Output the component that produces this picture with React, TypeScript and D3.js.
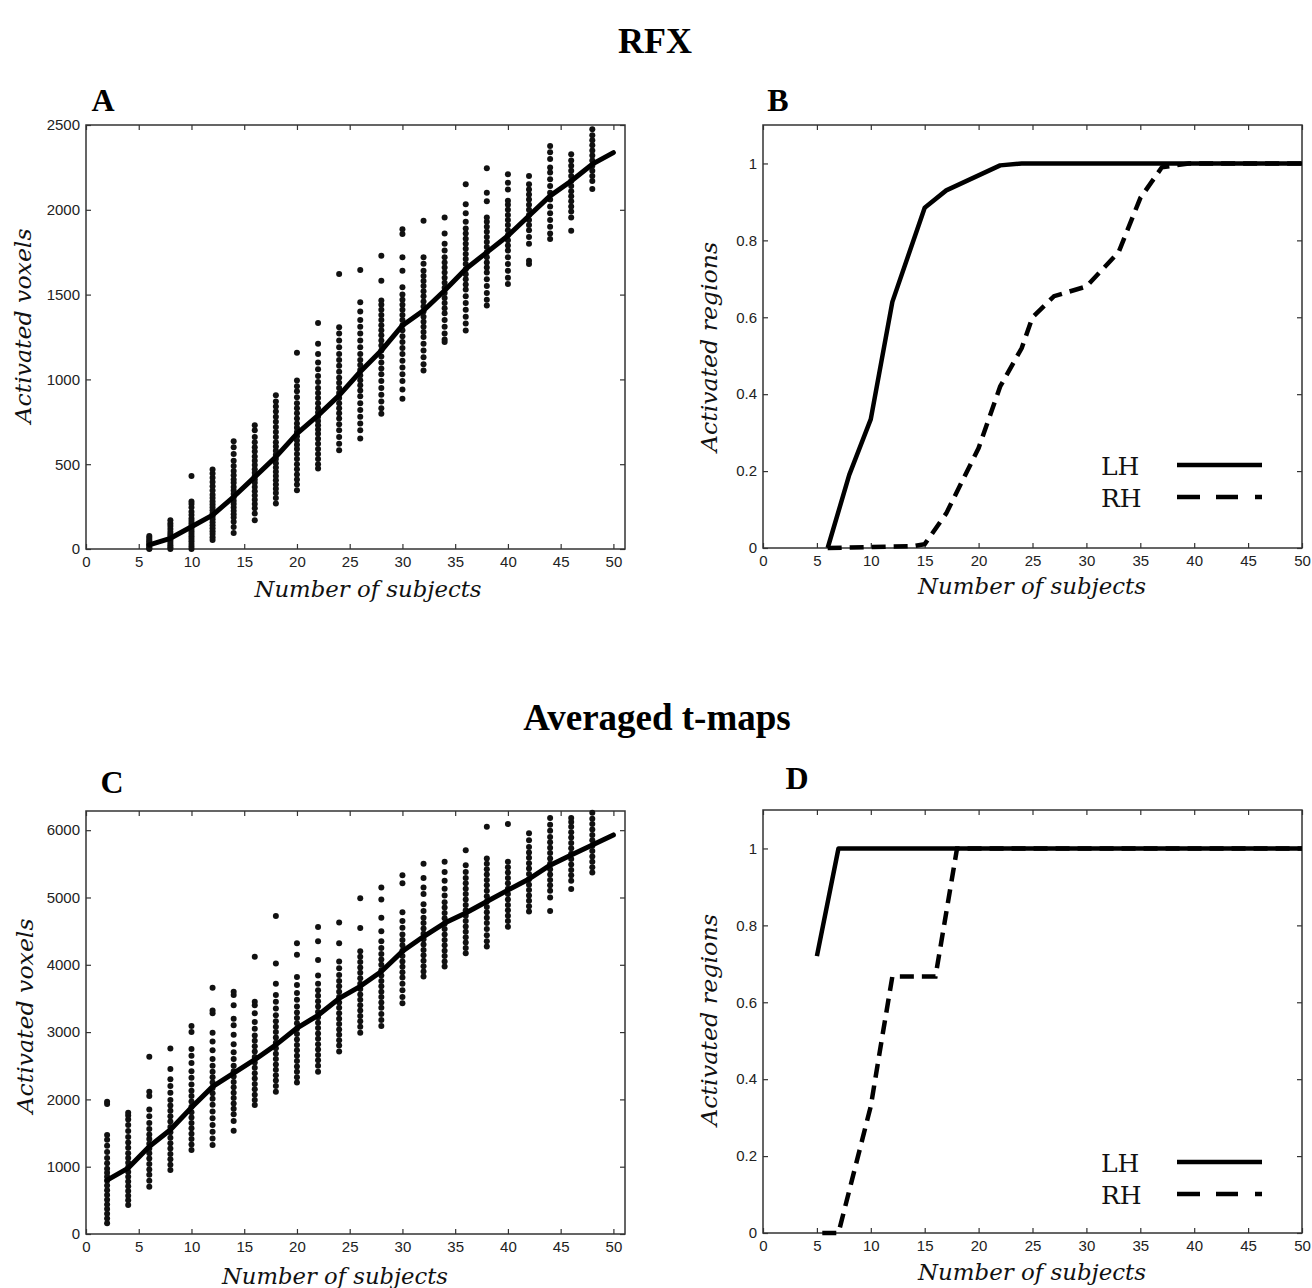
import React, { useEffect, useRef } from "react";
import * as d3 from "d3";

// ---- panel A : RFX, activated voxels per random subsample ----
const subjA = [6, 8, 10, 12, 14, 16, 18, 20, 22, 24, 26, 28, 30, 32, 34, 36, 38, 40, 42, 44, 46, 48];
const voxA = [
  [0, 5, 12, 20, 28, 36, 45, 55, 66, 76],
  [0, 10, 22, 35, 48, 60, 72, 85, 100, 118, 135, 150, 170],
  [0, 15, 30, 45, 60, 75, 90, 105, 120, 135, 150, 165, 180, 200, 220, 245, 265, 280, 430],
  [53, 70, 88, 105, 122, 140, 158, 175, 192, 210, 228, 245, 262, 280, 300, 320, 345, 370, 395, 420, 445, 469],
  [94, 130, 160, 185, 205, 225, 245, 265, 285, 305, 325, 345, 365, 390, 410, 435, 460, 490, 520, 560, 600, 635],
  [170, 210, 240, 265, 290, 315, 340, 365, 390, 410, 430, 450, 470, 495, 520, 545, 575, 600, 630, 660, 700, 729],
  [268, 300, 330, 355, 380, 405, 430, 455, 480, 505, 530, 555, 580, 605, 630, 660, 690, 720, 750, 780, 810, 840, 870, 906],
  [347, 380, 410, 440, 470, 500, 530, 560, 590, 615, 640, 665, 690, 715, 740, 770, 800, 830, 860, 895, 930, 960, 994, 1157],
  [475, 500, 530, 560, 590, 620, 650, 680, 705, 730, 755, 780, 805, 830, 860, 890, 920, 950, 985, 1020, 1060, 1100, 1150, 1210, 1333],
  [582, 620, 660, 700, 735, 770, 800, 830, 860, 890, 920, 950, 980, 1010, 1045, 1080, 1115, 1150, 1190, 1230, 1270, 1308, 1621],
  [651, 700, 740, 780, 820, 860, 900, 935, 965, 995, 1025, 1055, 1085, 1115, 1150, 1190, 1230, 1270, 1310, 1350, 1400, 1455, 1645],
  [798, 830, 870, 910, 950, 990, 1030, 1065, 1100, 1135, 1170, 1200, 1230, 1260, 1290, 1320, 1350, 1380, 1410, 1440, 1465, 1582, 1729],
  [886, 940, 990, 1030, 1070, 1110, 1150, 1185, 1220, 1255, 1290, 1320, 1350, 1380, 1410, 1440, 1470, 1500, 1543, 1640, 1720, 1857, 1886],
  [1053, 1090, 1130, 1170, 1210, 1250, 1280, 1310, 1340, 1370, 1400, 1430, 1460, 1490, 1520, 1550, 1580, 1610, 1640, 1682, 1720, 1935],
  [1220, 1235, 1270, 1310, 1350, 1390, 1420, 1450, 1480, 1510, 1540, 1570, 1600, 1630, 1660, 1690, 1720, 1760, 1800, 1860, 1955],
  [1288, 1330, 1370, 1410, 1450, 1490, 1530, 1560, 1590, 1620, 1650, 1680, 1710, 1740, 1770, 1800, 1830, 1860, 1890, 1930, 1980, 2033, 2151],
  [1435, 1470, 1510, 1550, 1590, 1630, 1660, 1690, 1720, 1750, 1780, 1810, 1840, 1870, 1900, 1930, 1955, 2050, 2100, 2245],
  [1563, 1600, 1640, 1680, 1720, 1760, 1790, 1820, 1850, 1880, 1910, 1940, 1970, 2000, 2030, 2053, 2120, 2160, 2210],
  [1680, 1700, 1800, 1840, 1880, 1910, 1940, 1970, 2000, 2030, 2060, 2090, 2120, 2150, 2200],
  [1828, 1860, 1900, 1940, 1980, 2020, 2060, 2100, 2140, 2180, 2220, 2250, 2300, 2340, 2376],
  [1876, 1955, 1990, 2020, 2050, 2080, 2110, 2140, 2170, 2200, 2230, 2260, 2290, 2327],
  [2122, 2170, 2200, 2230, 2260, 2290, 2320, 2350, 2380, 2410, 2440, 2475],
];
const meanXA = [6, 8, 10, 12, 14, 16, 18, 20, 22, 24, 26, 28, 30, 32, 34, 36, 38, 40, 42, 44, 46, 48, 50];
const meanYA = [24, 63, 131, 200, 308, 425, 543, 680, 788, 906, 1045, 1170, 1318, 1406, 1524, 1651, 1749, 1847, 1965, 2082, 2170, 2269, 2337];

// ---- panel C : averaged t-maps ----
const subjC = [2, 4, 6, 8, 10, 12, 14, 16, 18, 20, 22, 24, 26, 28, 30, 32, 34, 36, 38, 40, 42, 44, 46, 48];
const voxC = [
  [160, 230, 300, 370, 440, 510, 580, 650, 720, 790, 850, 910, 970, 1050, 1130, 1220, 1310, 1400, 1471, 1930, 1966],
  [430, 500, 570, 640, 710, 780, 850, 920, 990, 1060, 1130, 1200, 1280, 1360, 1440, 1530, 1620, 1700, 1760, 1800],
  [703, 790, 880, 960, 1040, 1120, 1200, 1270, 1340, 1410, 1480, 1560, 1650, 1750, 1850, 2050, 2115, 2635],
  [951, 1030, 1110, 1190, 1270, 1350, 1430, 1510, 1590, 1670, 1750, 1830, 1910, 1990, 2100, 2200, 2300, 2450, 2758],
  [1248, 1330, 1410, 1490, 1570, 1650, 1730, 1810, 1890, 1970, 2050, 2130, 2220, 2320, 2420, 2540, 2650, 2750, 3000, 3090],
  [1322, 1420, 1520, 1620, 1720, 1820, 1920, 2010, 2090, 2170, 2250, 2330, 2410, 2500, 2600, 2730, 2860, 2990, 3280, 3320, 3660],
  [1535, 1680, 1780, 1860, 1940, 2020, 2100, 2180, 2260, 2340, 2420, 2500, 2600, 2700, 2820, 2960, 3100, 3200, 3400, 3550, 3600],
  [1917, 1990, 2070, 2150, 2230, 2310, 2390, 2470, 2550, 2630, 2710, 2790, 2870, 2950, 3050, 3150, 3280, 3400, 3450, 4120],
  [2115, 2200, 2280, 2360, 2440, 2520, 2600, 2680, 2760, 2840, 2920, 3000, 3080, 3160, 3250, 3350, 3450, 3550, 3720, 4020, 4725],
  [2250, 2330, 2410, 2490, 2570, 2650, 2730, 2810, 2890, 2970, 3050, 3130, 3210, 3290, 3380, 3480, 3580, 3700, 3820, 4150, 4320],
  [2410, 2500, 2580, 2660, 2740, 2820, 2900, 2980, 3060, 3140, 3220, 3300, 3380, 3460, 3540, 3620, 3720, 3840, 4070, 4350, 4560],
  [2710, 2800, 2880, 2960, 3040, 3120, 3200, 3280, 3360, 3440, 3520, 3600, 3680, 3760, 3850, 3950, 4050, 4320, 4630],
  [2990, 3080, 3160, 3240, 3320, 3400, 3480, 3560, 3640, 3720, 3800, 3880, 3960, 4040, 4120, 4200, 4545, 4990],
  [3090, 3180, 3270, 3360, 3440, 3520, 3600, 3680, 3760, 3840, 3920, 4000, 4080, 4160, 4250, 4350, 4500, 4700, 4970, 5150],
  [3430, 3520, 3620, 3720, 3810, 3890, 3970, 4050, 4130, 4210, 4290, 4370, 4450, 4550, 4650, 4780, 5210, 5330],
  [3825, 3900, 3980, 4060, 4140, 4220, 4300, 4380, 4460, 4540, 4620, 4700, 4800, 4900, 5050, 5150, 5290, 5500],
  [3975, 4050, 4130, 4210, 4290, 4370, 4450, 4530, 4610, 4690, 4770, 4850, 4930, 5030, 5130, 5250, 5380, 5530],
  [4170, 4250, 4330, 4410, 4490, 4570, 4650, 4730, 4810, 4890, 4970, 5050, 5130, 5210, 5290, 5380, 5480, 5700],
  [4270, 4350, 4440, 4530, 4620, 4700, 4780, 4860, 4940, 5020, 5100, 5180, 5260, 5340, 5420, 5500, 5580, 6050],
  [4565, 4650, 4730, 4810, 4890, 4970, 5050, 5130, 5210, 5290, 5370, 5450, 5530, 6090],
  [4790, 4870, 4950, 5030, 5110, 5190, 5270, 5350, 5430, 5510, 5590, 5670, 5750, 5850, 5955],
  [4800, 5000, 5100, 5180, 5260, 5340, 5420, 5500, 5580, 5660, 5740, 5820, 5900, 5990, 6080, 6180],
  [5125, 5250, 5330, 5410, 5490, 5570, 5650, 5730, 5810, 5890, 5970, 6050, 6120, 6180],
  [5370, 5450, 5530, 5610, 5690, 5770, 5850, 5930, 6010, 6090, 6170, 6260],
];
const meanXC = [2, 4, 6, 8, 10, 12, 14, 16, 18, 20, 22, 24, 26, 28, 30, 32, 34, 36, 38, 40, 42, 44, 46, 48, 50];
const meanYC = [800, 980, 1300, 1550, 1880, 2190, 2390, 2590, 2810, 3060, 3250, 3500, 3680, 3900, 4200, 4420, 4620, 4770, 4940, 5110, 5275, 5480, 5630, 5780, 5930];

// ---- panels B and D : fraction of activated regions ----
const lhB = [[6, 0], [8, 0.19], [10, 0.335], [12, 0.64], [15, 0.885], [17, 0.93], [22, 0.995], [24, 1], [50, 1]];
const rhB = [[6, 0], [14, 0.005], [15, 0.01], [17, 0.09], [20, 0.26], [22, 0.42], [24, 0.52], [25, 0.6], [27, 0.655], [30, 0.68], [33, 0.77], [35, 0.91], [37, 0.99], [39.5, 1], [50, 1]];
const lhD = [[5, 0.72], [7, 1], [50, 1]];
const rhD = [[5.5, 0], [7, 0], [10, 0.33], [11, 0.5], [12, 0.667], [16, 0.667], [18, 1], [50, 1]];

const xTicks = [0, 5, 10, 15, 20, 25, 30, 35, 40, 45, 50];
const yTicksA = [0, 500, 1000, 1500, 2000, 2500];
const yTicksC = [0, 1000, 2000, 3000, 4000, 5000, 6000];
const yTicksReg = [0, 0.2, 0.4, 0.6, 0.8, 1];
const legendNames = ["LH", "RH"];

const tickFont = "'Liberation Sans', Arial, sans-serif";
const serif = "'DejaVu Serif', 'Liberation Serif', serif";
const titleFont = "'Liberation Serif', 'Times New Roman', serif";

function frame(svg: any, x: any, y: any, yTicks: number[], fmt: (d: any) => string) {
  const [x0, x1] = x.range();
  const [y0, y1] = y.range();
  const style = (g: any) => {
    g.select(".domain").remove();
    g.selectAll("line").attr("stroke", "#333").attr("stroke-width", 1.2);
    g.selectAll("text").attr("font-family", tickFont).attr("font-size", 15).attr("fill", "#222");
  };
  svg.append("g").attr("transform", `translate(0,${y0})`)
    .call(d3.axisBottom(x).tickValues(xTicks).tickSize(-5).tickPadding(7).tickFormat(d3.format("d")))
    .call(style);
  svg.append("g").attr("transform", `translate(0,${y1})`)
    .call(d3.axisTop(x).tickValues(xTicks).tickSize(-5).tickFormat(() => ""))
    .call(style);
  svg.append("g").attr("transform", `translate(${x0},0)`)
    .call(d3.axisLeft(y).tickValues(yTicks).tickSize(-5).tickPadding(6).tickFormat(fmt))
    .call(style);
  svg.append("g").attr("transform", `translate(${x1},0)`)
    .call(d3.axisRight(y).tickValues(yTicks).tickSize(-5).tickFormat(() => ""))
    .call(style);
  svg.append("rect").attr("x", x0).attr("y", y1).attr("width", x1 - x0).attr("height", y0 - y1)
    .attr("fill", "none").attr("stroke", "#333").attr("stroke-width", 1.5);
}

function axisLabels(svg: any, xl: number[], yl: number[], xText: string, yText: string) {
  svg.append("text").attr("x", xl[0]).attr("y", xl[1]).attr("text-anchor", "middle")
    .attr("font-family", serif).attr("font-style", "italic").attr("font-size", 22)
    .attr("textLength", xl[2]).attr("lengthAdjust", "spacingAndGlyphs").attr("fill", "#111").text(xText);
  svg.append("text").attr("transform", `translate(${yl[0]},${yl[1]}) rotate(-90)`).attr("text-anchor", "middle")
    .attr("font-family", serif).attr("font-style", "italic").attr("font-size", 22)
    .attr("textLength", yl[2]).attr("lengthAdjust", "spacingAndGlyphs").attr("fill", "#111").text(yText);
}

function scatterPanel(svg: any, x: any, y: any, subj: number[], vox: number[][], mx: number[], my: number[]) {
  const pts: number[][] = [];
  subj.forEach((s, i) => vox[i].forEach((v) => pts.push([s, v])));
  svg.append("g").selectAll("circle").data(pts).join("circle")
    .attr("cx", (d: number[]) => x(d[0])).attr("cy", (d: number[]) => y(d[1])).attr("r", 3).attr("fill", "#111");
  const line = d3.line<number>().x((d, i) => x(mx[i])).y((d) => y(d));
  svg.append("path").attr("d", line(my)).attr("fill", "none").attr("stroke", "#000")
    .attr("stroke-width", 5).attr("stroke-linejoin", "round").attr("stroke-linecap", "round");
}

function regionPanel(svg: any, x: any, y: any, lh: number[][], rh: number[][], legY: number) {
  const line = d3.line<number[]>().x((d) => x(d[0])).y((d) => y(d[1]));
  svg.append("path").attr("d", line(rh)).attr("fill", "none").attr("stroke", "#000")
    .attr("stroke-width", 4.5).attr("stroke-dasharray", "14,8");
  svg.append("path").attr("d", line(lh)).attr("fill", "none").attr("stroke", "#000")
    .attr("stroke-width", 4.5).attr("stroke-linejoin", "round");
  // legend
  legendNames.forEach((name, i) => {
    const ly = legY + i * 32;
    svg.append("text").attr("x", 1101).attr("y", ly + 10).attr("font-family", serif)
      .attr("font-size", 25).attr("fill", "#111").text(name);
    svg.append("line").attr("x1", 1177).attr("x2", 1262).attr("y1", ly).attr("y2", ly)
      .attr("stroke", "#000").attr("stroke-width", 4.5)
      .attr("stroke-dasharray", i === 0 ? null : "23,16,22,17,7");
  });
}

export default function App() {
  const ref = useRef<SVGSVGElement>(null);

  useEffect(() => {
    const svg = d3.select(ref.current);
    svg.selectAll("*").remove();

    // titles
    svg.append("text").attr("x", 655).attr("y", 53).attr("text-anchor", "middle")
      .attr("font-family", titleFont).attr("font-weight", "bold").attr("font-size", 36).text("RFX");
    svg.append("text").attr("x", 657).attr("y", 730).attr("text-anchor", "middle")
      .attr("font-family", titleFont).attr("font-weight", "bold").attr("font-size", 37).text("Averaged t-maps");
    [["A", 103, 111], ["B", 778, 111], ["C", 112, 793], ["D", 797, 789]].forEach((p: any) => {
      svg.append("text").attr("x", p[1]).attr("y", p[2]).attr("text-anchor", "middle")
        .attr("font-family", titleFont).attr("font-weight", "bold").attr("font-size", 32).text(p[0]);
    });

    // A
    const xA = d3.scaleLinear().domain([0, 51.1]).range([86, 625]);
    const yA = d3.scaleLinear().domain([0, 2500]).range([549, 125]);
    const gA = svg.append("g");
    frame(gA, xA, yA, yTicksA, d3.format("d"));
    scatterPanel(gA, xA, yA, subjA, voxA, meanXA, meanYA);
    axisLabels(gA, [368, 597, 227], [31, 326, 195], "Number of subjects", "Activated voxels");

    // B
    const xB = d3.scaleLinear().domain([0, 50]).range([763, 1302]);
    const yB = d3.scaleLinear().domain([0, 1.1]).range([548, 125]);
    const gB = svg.append("g");
    frame(gB, xB, yB, yTicksReg, (d: any) => String(d));
    regionPanel(gB, xB, yB, lhB, rhB, 465);
    axisLabels(gB, [1032, 594, 228], [717, 347, 210], "Number of subjects", "Activated regions");

    // C
    const xC = d3.scaleLinear().domain([0, 51.1]).range([86, 625]);
    const yC = d3.scaleLinear().domain([0, 6285]).range([1234, 811]);
    const gC = svg.append("g");
    frame(gC, xC, yC, yTicksC, d3.format("d"));
    scatterPanel(gC, xC, yC, subjC, voxC, meanXC, meanYC);
    axisLabels(gC, [335, 1284, 226], [33, 1016, 195], "Number of subjects", "Activated voxels");

    // D
    const xD = d3.scaleLinear().domain([0, 50]).range([763, 1302]);
    const yD = d3.scaleLinear().domain([0, 1.1]).range([1233, 810]);
    const gD = svg.append("g");
    frame(gD, xD, yD, yTicksReg, (d: any) => String(d));
    regionPanel(gD, xD, yD, lhD, rhD, 1162);
    axisLabels(gD, [1032, 1280, 228], [717, 1020, 212], "Number of subjects", "Activated regions");
  }, []);

  return (
    <svg ref={ref} width={1312} height={1288}
      style={{ position: "absolute", left: 0, top: 0, background: "#fff" }} />
  );
}
